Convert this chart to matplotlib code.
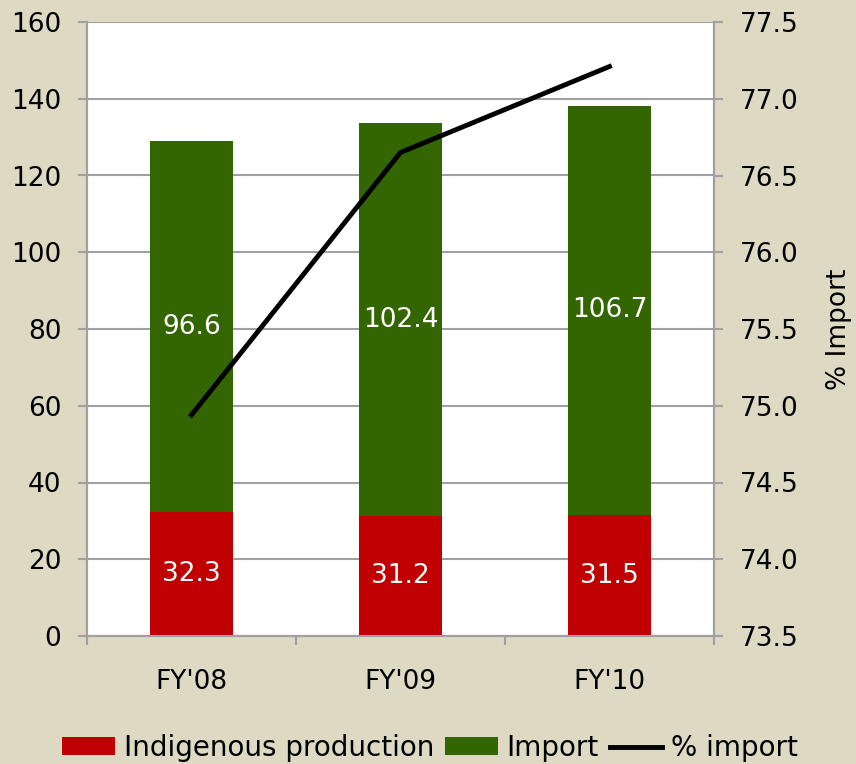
import matplotlib
matplotlib.use("Agg")
import matplotlib.pyplot as plt
from matplotlib.patches import Patch
from matplotlib.lines import Line2D
import numpy as np

categories = ["FY'08", "FY'09", "FY'10"]
indigenous = [32.3, 31.2, 31.5]
imports = [96.6, 102.4, 106.7]
pct_import = [74.94, 76.65, 77.21]

plt.rcParams['font.family'] = ['DejaVu Sans']
bg = '#DDD9C3'
red = '#C00000'
green = '#336600'
grid = '#A0A0A0'
fs = 19

fig = plt.figure(figsize=(8.56, 7.64), dpi=100, facecolor=bg)
ax = fig.add_axes([87/856, 1 - 636/764, 627/856, 614/764])
ax.set_facecolor('white')
x = np.arange(len(categories))
w = 0.4
ax.bar(x, indigenous, w, color=red, zorder=3)
ax.bar(x, imports, w, bottom=indigenous, color=green, zorder=3)
for i in range(len(x)):
    ax.text(x[i], indigenous[i] / 2, f"{indigenous[i]:.1f}", ha='center', va='center',
            color='white', fontsize=fs, zorder=4)
    ax.text(x[i], indigenous[i] + imports[i] / 2, f"{imports[i]:.1f}", ha='center', va='center',
            color='white', fontsize=fs, zorder=4)
ax.set_xlim(-0.5, 2.5)
ax.set_ylim(0, 160)
ax.set_yticks(np.arange(0, 161, 20))
ax.set_xticks(x)
ax.set_xticklabels(categories)
ax.set_xticks([-0.5, 0.5, 1.5, 2.5], minor=True)
ax.tick_params(axis='x', which='major', length=0, pad=24, labelsize=fs)
ax.tick_params(axis='x', which='minor', length=6.5, color=grid, width=1.5)
ax.tick_params(axis='y', length=6.5, color=grid, width=1.5, labelsize=fs, pad=12)
ax.yaxis.grid(True, color=grid, linewidth=1.5, zorder=0)
for s in ax.spines.values():
    s.set_color(grid)
    s.set_linewidth(1.5)
ax.spines['top'].set_visible(False)

ax2 = ax.twinx()
ax2.plot(x, pct_import, color='black', linewidth=3.5, zorder=5)
ax2.set_ylim(73.5, 77.5)
ax2.set_yticks(np.arange(73.5, 77.51, 0.5))
ax2.set_yticklabels([f"{v:.1f}" for v in np.arange(73.5, 77.51, 0.5)])
ax2.tick_params(axis='y', length=6.5, color=grid, width=1.5, labelsize=fs, pad=12)
ax2.set_ylabel('% Import', fontsize=fs, labelpad=20)
for s in ax2.spines.values():
    s.set_color(grid)
    s.set_linewidth(1.5)
ax2.spines['top'].set_visible(False)

handles = [Patch(facecolor=red, label='Indigenous production'),
           Patch(facecolor=green, label='Import'),
           Line2D([0], [0], color='black', linewidth=3.5, label='% import')]
fig.legend(handles=handles, loc='center', bbox_to_anchor=(430/856, 1 - 748/764), ncol=3,
           frameon=False, fontsize=20, handlelength=1.9, handleheight=0.6,
           handletextpad=0.3, columnspacing=0.4, borderpad=0)

fig.savefig('out.png', dpi=100, facecolor=bg)
